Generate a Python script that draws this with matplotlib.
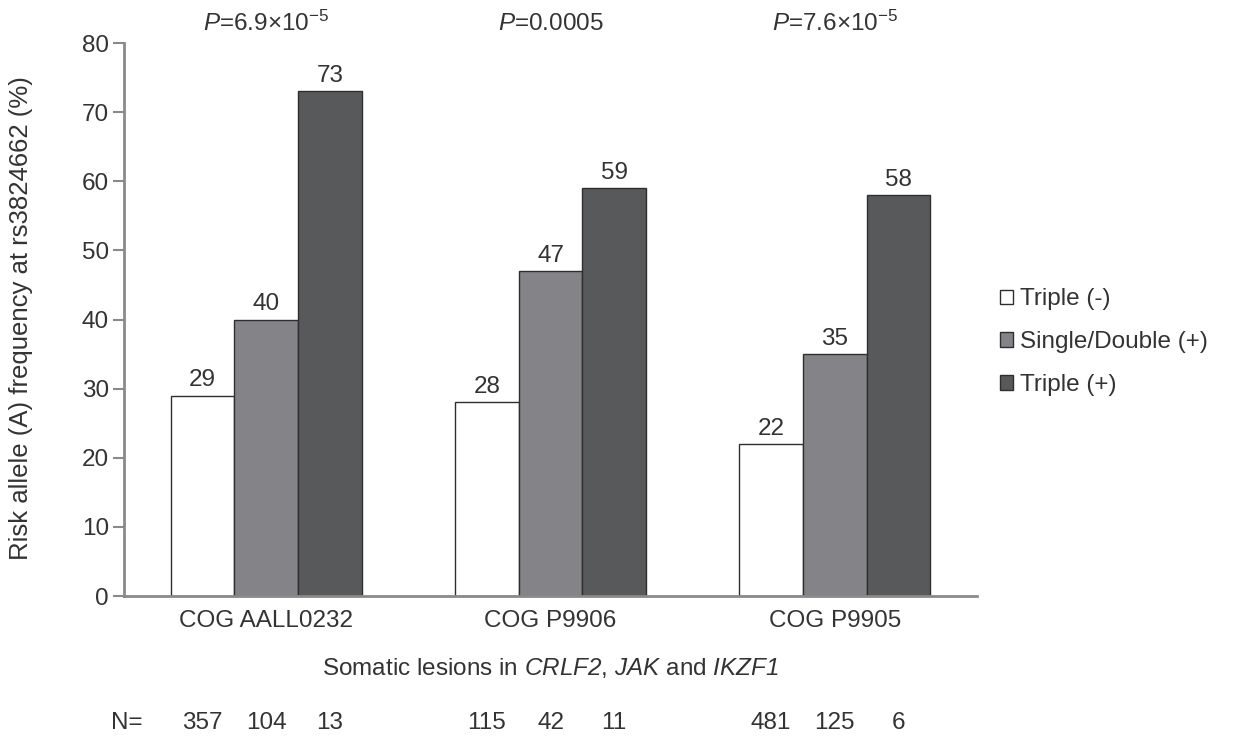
"""Risk allele frequency at rs3824662 by somatic lesion status, three COG cohorts."""

import matplotlib

matplotlib.use("Agg")
import matplotlib.pyplot as plt
import numpy as np
from matplotlib.patches import Patch

plt.rcParams["font.family"] = ["Liberation Sans", "DejaVu Sans"]
plt.rcParams["mathtext.fontset"] = "custom"
plt.rcParams["mathtext.rm"] = "Liberation Sans"
plt.rcParams["mathtext.it"] = "Liberation Sans:italic"
# sf is used as an italic face so that digits stay italic too
plt.rcParams["mathtext.sf"] = "Liberation Sans:italic"

cohorts = ["COG AALL0232", "COG P9906", "COG P9905"]
series = ["Triple (-)", "Single/Double (+)", "Triple (+)"]
freq_triple_neg = [29, 28, 22]
freq_single_double = [40, 47, 35]
freq_triple_pos = [73, 59, 58]
n_triple_neg = [357, 115, 481]
n_single_double = [104, 42, 125]
n_triple_pos = [13, 11, 6]
p_labels = [r"$\mathsf{P}$=6.9×10$^{-5}$", r"$\mathsf{P}$=0.0005", r"$\mathsf{P}$=7.6×10$^{-5}$"]

colors = ["#ffffff", "#848488", "#58595b"]
text_col = "#333333"
axis_col = "#8a8a8a"
fs = 17.5

fig = plt.figure(figsize=(12.33, 7.39), dpi=100)
ax = fig.add_axes([0.1006, 0.1935, 0.6918, 0.7483])

x = np.arange(len(cohorts))
w = 0.224
values = [freq_triple_neg, freq_single_double, freq_triple_pos]
counts = [n_triple_neg, n_single_double, n_triple_pos]
for i, (vals, col) in enumerate(zip(values, colors)):
    pos = x + (i - 1) * w
    ax.bar(pos, vals, width=w, color=col, edgecolor="#2e2e2e", linewidth=1.0, zorder=2)
    for px, v in zip(pos, vals):
        ax.annotate(str(v), xy=(px, v), xytext=(0, 3), textcoords="offset points",
                    ha="center", va="bottom", fontsize=fs, color=text_col)
    for px, n in zip(pos, counts[i]):
        ax.annotate(str(n), xy=(px, 0), xycoords=("data", "axes fraction"),
                    xytext=(0, -91.5), textcoords="offset points",
                    ha="center", va="center", fontsize=fs, color=text_col)

ax.annotate("N=", xy=(-0.49, 0), xycoords=("data", "axes fraction"),
            xytext=(0, -91.5), textcoords="offset points",
            ha="center", va="center", fontsize=fs, color=text_col)

for xi, p in zip(x, p_labels):
    ax.annotate(p, xy=(xi, 1), xycoords=("data", "axes fraction"),
                xytext=(0, 14), textcoords="offset points",
                ha="center", va="center", fontsize=fs, color=text_col)

ax.set_xlim(-0.5, 2.5)
ax.set_ylim(0, 80)
ax.set_yticks(range(0, 81, 10))
ax.set_xticks(x)
ax.set_xticklabels(cohorts)
ax.tick_params(axis="x", length=0, pad=10, labelsize=fs, labelcolor=text_col)
ax.tick_params(axis="y", length=8, width=1.5, color=axis_col, labelsize=fs,
               labelcolor=text_col, pad=3)

for side in ["top", "right"]:
    ax.spines[side].set_visible(False)
for side in ["left", "bottom"]:
    ax.spines[side].set_color(axis_col)
    ax.spines[side].set_linewidth(2)
    ax.spines[side].set_zorder(3)

fig.text(21 / 1233, 0.57, "Risk allele (A) frequency at rs3824662 (%)", rotation=90,
         ha="center", va="center", fontsize=18.5, color=text_col)
ax.annotate(r"Somatic lesions in $\mathsf{CRLF2}$, $\mathsf{JAK}$ and $\mathsf{IKZF1}$",
            xy=(0.5, 0), xycoords="axes fraction", xytext=(0, -52),
            textcoords="offset points", ha="center", va="center",
            fontsize=fs, color=text_col)

handles = [Patch(facecolor=c, edgecolor="#2e2e2e", linewidth=1.0, label=s)
           for c, s in zip(colors, series)]
fig.legend(handles=handles, loc="center left", bbox_to_anchor=(0.793, 0.537),
           frameon=False, fontsize=fs, handlelength=0.55, handleheight=0.55,
           handletextpad=0.3, labelspacing=0.85, labelcolor=text_col)

fig.savefig("out.png", dpi=100)
